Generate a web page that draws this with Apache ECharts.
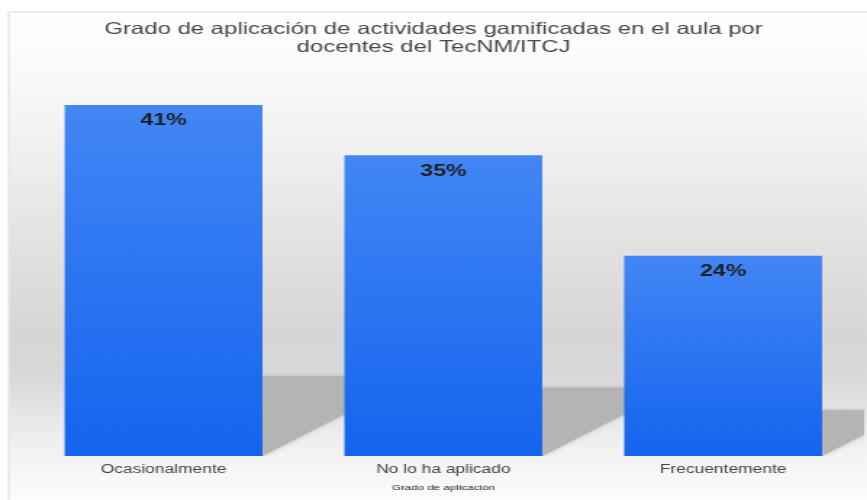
<!DOCTYPE html>
<html>
<head>
<meta charset="utf-8">
<script src="https://cdn.jsdelivr.net/npm/echarts@6/dist/echarts.min.js"></script>
<style>
html,body{margin:0;padding:0;background:#fff;overflow:hidden;}
#wrap{width:867px;height:500px;overflow:hidden;}
#c{width:598px;height:500px;transform:scaleX(1.45);transform-origin:0 0;}
</style>
</head>
<body>
<div id="wrap"><div id="c"></div></div>
<script>
// Data
const titleText = 'Grado de aplicación de actividades gamificadas en el aula por\ndocentes del TecNM/ITCJ';
const categories = ['Ocasionalmente', 'No lo ha aplicado', 'Frecuentemente'];
const percentValues = [41.2, 35.3, 23.5];
const axisName = 'Grado de aplicación';

const BAR_FRAC = 0.707;
const chart = echarts.init(document.getElementById('c'), null, {renderer: 'canvas'});

const shadowData = percentValues.map((v, i) => [i, v]);

chart.setOption({
  animation: false,
  backgroundColor: '#ffffff',
  title: {
    text: titleText,
    left: 'center',
    top: 20,
    padding: 0,
    textStyle: {
      fontFamily: 'Liberation Sans',
      fontSize: 16.5,
      lineHeight: 18,
      fontWeight: 'normal',
      color: '#474747'
    }
  },
  graphic: [{
    type: 'rect',
    z: -10,
    silent: true,
    shape: {x: 6, y: 12, width: 600, height: 500},
    style: {
      fill: new echarts.graphic.LinearGradient(0, 0, 0, 1, [
        {offset: 0, color: '#ffffff'},
        {offset: 0.14, color: '#f9f9f9'},
        {offset: 0.28, color: '#f0f0f0'},
        {offset: 0.49, color: '#e0e0e0'},
        {offset: 0.65, color: '#d6d6d6'},
        {offset: 0.73, color: '#d9d9d9'},
        {offset: 0.81, color: '#e7e7e7'},
        {offset: 0.89, color: '#f4f4f4'},
        {offset: 0.97, color: '#fcfcfc'},
        {offset: 1, color: '#ffffff'}
      ]),
      stroke: '#e6e6e6',
      lineWidth: 1.4
    }
  }],
  grid: {left: 16.3, right: 2.8, top: 30, bottom: 44, containLabel: false},
  xAxis: {
    type: 'category',
    data: categories,
    axisLine: {show: false},
    axisTick: {show: false},
    axisLabel: {
      margin: 8,
      fontFamily: 'Liberation Sans',
      fontSize: 12,
      color: '#444444'
    },
    name: axisName,
    nameLocation: 'middle',
    nameGap: 28,
    nameTextStyle: {
      fontFamily: 'Liberation Sans',
      fontSize: 8,
      color: '#222'
    }
  },
  yAxis: {
    type: 'value',
    min: 0,
    max: 50,
    show: false,
    splitLine: {show: false}
  },
  series: [{
    type: 'custom',
    z: 1,
    clip: true,
    silent: true,
    data: shadowData,
    encode: {x: 0, y: 1},
    renderItem: function (params, api) {
      const base = api.coord([api.value(0), 0]);
      const top = api.coord([api.value(0), api.value(1)]);
      const band = api.size([1, 0])[0];
      const w = band * BAR_FRAC;
      const xL = base[0] - w / 2, xR = base[0] + w / 2;
      const H = base[1] - top[1];
      const s = 0.228 * H;
      const d = s * 1.352;
      return {
        type: 'polygon',
        shape: {points: [[xL, base[1]], [xR, base[1]], [xR + d, base[1] - s], [xL + d, base[1] - s]]},
        style: {fill: '#b4b4b4', shadowBlur: 4, shadowColor: 'rgba(170,170,170,0.8)'}
      };
    }
  }, {
    type: 'bar',
    z: 2,
    data: percentValues,
    barWidth: (BAR_FRAC * 100) + '%',
    itemStyle: {
      color: new echarts.graphic.LinearGradient(0, 0, 0, 1, [
        {offset: 0, color: '#4386f5'},
        {offset: 1, color: '#1464ee'}
      ])
    },
    label: {
      show: true,
      position: 'insideTop',
      distance: 8,
      formatter: p => Math.round(p.value) + '%',
      fontFamily: 'Liberation Sans',
      fontSize: 16,
      fontWeight: 'bold',
      color: '#1e1e1e'
    }
  }]
});
</script>
</body>
</html>
